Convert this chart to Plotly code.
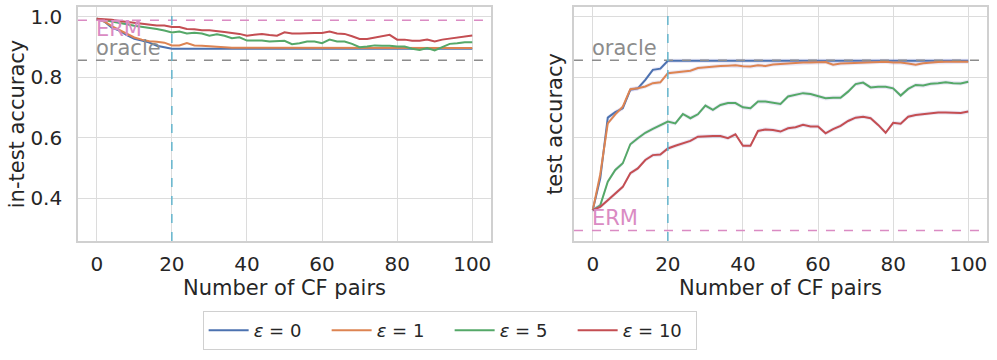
import plotly.graph_objects as go

# x grid: number of counterfactual pairs
n_pairs = list(range(0, 101, 2))

# in-test accuracy (left panel)
in_eps0 = [0.994, 0.985, 0.965, 0.955, 0.940, 0.928, 0.922, 0.915, 0.905, 0.900, 0.895] + [0.895] * 40
in_eps1 = [0.994, 0.985, 0.970, 0.958, 0.945, 0.932, 0.925, 0.920, 0.918, 0.915, 0.906,
           0.906, 0.914, 0.906, 0.905, 0.903, 0.900, 0.899, 0.898, 0.898, 0.898] + [0.897] * 30
in_eps5 = [0.994, 0.990, 0.985, 0.980, 0.976, 0.971, 0.968, 0.965, 0.960, 0.955, 0.949,
           0.952, 0.945, 0.948, 0.945, 0.938, 0.943, 0.938, 0.930, 0.933, 0.922,
           0.922, 0.922, 0.919, 0.921, 0.921, 0.910, 0.913, 0.919, 0.919, 0.913,
           0.925, 0.919, 0.919, 0.911, 0.900, 0.902, 0.906, 0.905, 0.905, 0.902,
           0.902, 0.895, 0.891, 0.897, 0.889, 0.900, 0.911, 0.913, 0.916, 0.916]
in_eps10 = [0.994, 0.993, 0.991, 0.987, 0.984, 0.980, 0.977, 0.974, 0.972, 0.972, 0.967,
            0.967, 0.960, 0.959, 0.956, 0.956, 0.952, 0.950, 0.947, 0.944, 0.938,
            0.941, 0.944, 0.940, 0.938, 0.949, 0.945, 0.945, 0.947, 0.947, 0.947,
            0.952, 0.945, 0.944, 0.936, 0.927, 0.927, 0.931, 0.936, 0.941, 0.925,
            0.925, 0.921, 0.921, 0.925, 0.919, 0.925, 0.928, 0.931, 0.936, 0.939]

# test accuracy (right panel)
te_eps0 = [0.361, 0.466, 0.667, 0.685, 0.698, 0.759, 0.764, 0.792, 0.825, 0.829, 0.855] + [0.855] * 40
te_eps1 = [0.361, 0.480, 0.648, 0.678, 0.703, 0.761, 0.764, 0.770, 0.781, 0.784, 0.814,
           0.817, 0.819, 0.822, 0.831, 0.834, 0.836, 0.838, 0.839, 0.840, 0.837,
           0.836, 0.840, 0.838, 0.843, 0.845, 0.846, 0.848, 0.849, 0.849, 0.850,
           0.851, 0.842, 0.846, 0.847, 0.848, 0.849, 0.851, 0.851, 0.852, 0.849,
           0.849, 0.846, 0.842, 0.847, 0.850, 0.851, 0.852, 0.852, 0.852, 0.852]
te_eps5 = [0.361, 0.377, 0.455, 0.494, 0.516, 0.579, 0.599, 0.617, 0.630, 0.643, 0.654,
           0.648, 0.679, 0.665, 0.678, 0.707, 0.693, 0.709, 0.715, 0.715, 0.701,
           0.698, 0.720, 0.720, 0.716, 0.712, 0.737, 0.742, 0.748, 0.745, 0.737,
           0.731, 0.733, 0.733, 0.753, 0.778, 0.783, 0.767, 0.769, 0.769, 0.764,
           0.740, 0.762, 0.775, 0.773, 0.779, 0.781, 0.784, 0.781, 0.780, 0.786]
te_eps10 = [0.361, 0.372, 0.394, 0.416, 0.438, 0.483, 0.499, 0.527, 0.543, 0.545, 0.565,
            0.574, 0.582, 0.590, 0.604, 0.606, 0.606, 0.606, 0.599, 0.612, 0.574,
            0.574, 0.623, 0.628, 0.626, 0.621, 0.632, 0.635, 0.643, 0.638, 0.638,
            0.615, 0.629, 0.640, 0.656, 0.667, 0.670, 0.665, 0.643, 0.617, 0.650,
            0.647, 0.670, 0.676, 0.679, 0.683, 0.684, 0.684, 0.684, 0.682, 0.687]

labels = ["<i>ε</i> = 0", "<i>ε</i> = 1", "<i>ε</i> = 5", "<i>ε</i> = 10"]
colors = ["#4c72b0", "#dd8452", "#55a868", "#c44e52"]

erm_in, oracle_in = 0.989, 0.857
erm_te, oracle_te = 0.294, 0.857
cf_marker = 20

fig = go.Figure()

def add_panel(series, xa, ya, band, show):
    for s, lab, c in zip(series, labels, colors):
        up = [v + band for v in s]
        lo = [v - band for v in s]
        fig.add_trace(go.Scatter(
            x=n_pairs + n_pairs[::-1], y=up + lo[::-1], fill="toself",
            fillcolor="rgba(160,150,215,0.22)", line=dict(width=0),
            hoverinfo="skip", showlegend=False, xaxis=xa, yaxis=ya))
        fig.add_trace(go.Scatter(
            x=n_pairs, y=s, mode="lines", name=lab, line=dict(color=c, width=2),
            showlegend=show, xaxis=xa, yaxis=ya))

add_panel([in_eps0, in_eps1, in_eps5, in_eps10], "x", "y", 0.002, True)
add_panel([te_eps0, te_eps1, te_eps5, te_eps10], "x2", "y2", 0.007, False)

shapes = []
annotations = []
for xr, yr, erm, orc, erm_shift, orc_shift in [("x", "y", erm_in, oracle_in, -9, 12),
                                              ("x2", "y2", erm_te, oracle_te, 12, 12)]:
    shapes.append(dict(type="line", xref=xr + " domain", yref=yr, x0=0, x1=1, y0=erm, y1=erm,
                       line=dict(color="#da8bc3", width=1.5, dash="dash")))
    shapes.append(dict(type="line", xref=xr + " domain", yref=yr, x0=0, x1=1, y0=orc, y1=orc,
                       line=dict(color="#8c8c8c", width=1.5, dash="dash")))
    shapes.append(dict(type="line", xref=xr, yref=yr + " domain", x0=cf_marker, x1=cf_marker, y0=0, y1=1,
                       line=dict(color="#64b5cd", width=1.5, dash="dash")))
    annotations.append(dict(x=0, y=erm, xref=xr, yref=yr, text="ERM", showarrow=False,
                            xanchor="left", xshift=-3, yshift=erm_shift,
                            font=dict(color="#da8bc3", size=21)))
    annotations.append(dict(x=0, y=orc, xref=xr, yref=yr, text="oracle", showarrow=False,
                            xanchor="left", xshift=-3, yshift=orc_shift,
                            font=dict(color="#8c8c8c", size=21)))

axis_common = dict(range=[-5, 105], tickvals=[0, 20, 40, 60, 80, 100], showgrid=True,
                   gridcolor="#dcdcdc", gridwidth=1.2, zeroline=False, showline=True,
                   linecolor="#d0d0d0", linewidth=1.5, mirror=True, ticks="", automargin=False,
                   tickfont=dict(size=20, color="#262626"), ticklabelstandoff=4,
                   title=dict(text="Number of CF pairs", font=dict(size=21, color="#262626"), standoff=2))
yaxis_common = dict(range=[0.259, 1.033], tickvals=[0.4, 0.6, 0.8, 1.0], tickformat=".1f",
                    showgrid=True, gridcolor="#dcdcdc", gridwidth=1.2, zeroline=False,
                    showline=True, linecolor="#d0d0d0", linewidth=1.5, mirror=True, ticks="",
                    automargin=False, tickfont=dict(size=20, color="#262626"), ticklabelstandoff=10,
                    ticklabeloverflow="allow")

fig.update_layout(
    width=997, height=360,
    margin=dict(l=0, r=0, t=0, b=0),
    paper_bgcolor="white", plot_bgcolor="white",
    font=dict(family="DejaVu Sans", color="#262626"),
    xaxis=dict(domain=[0.0782, 0.4925], anchor="y", **axis_common),
    xaxis2=dict(domain=[0.5757, 0.99], anchor="y2", **axis_common),
    yaxis=dict(domain=[0.3306, 0.9806], anchor="x",
               title=dict(text="in-test accuracy", font=dict(size=21, color="#262626"), standoff=0),
               **yaxis_common),
    yaxis2=dict(domain=[0.3306, 0.9806], anchor="x2", showticklabels=False,
                title=dict(text="test accuracy", font=dict(size=21, color="#262626"), standoff=4),
                **yaxis_common),
    shapes=shapes, annotations=annotations,
    legend=dict(orientation="h", x=0.451, xanchor="center", y=0.082, yanchor="middle",
                bordercolor="#d0d0d0", borderwidth=1, bgcolor="white",
                font=dict(size=18, color="#262626"), entrywidth=68, itemwidth=40),
    showlegend=True,
)

# drop the default body margin so the figure sits at the page corner
fig.write_html("out.html", config={"displayModeBar": False},
               post_script="document.body.style.margin = '0';")
